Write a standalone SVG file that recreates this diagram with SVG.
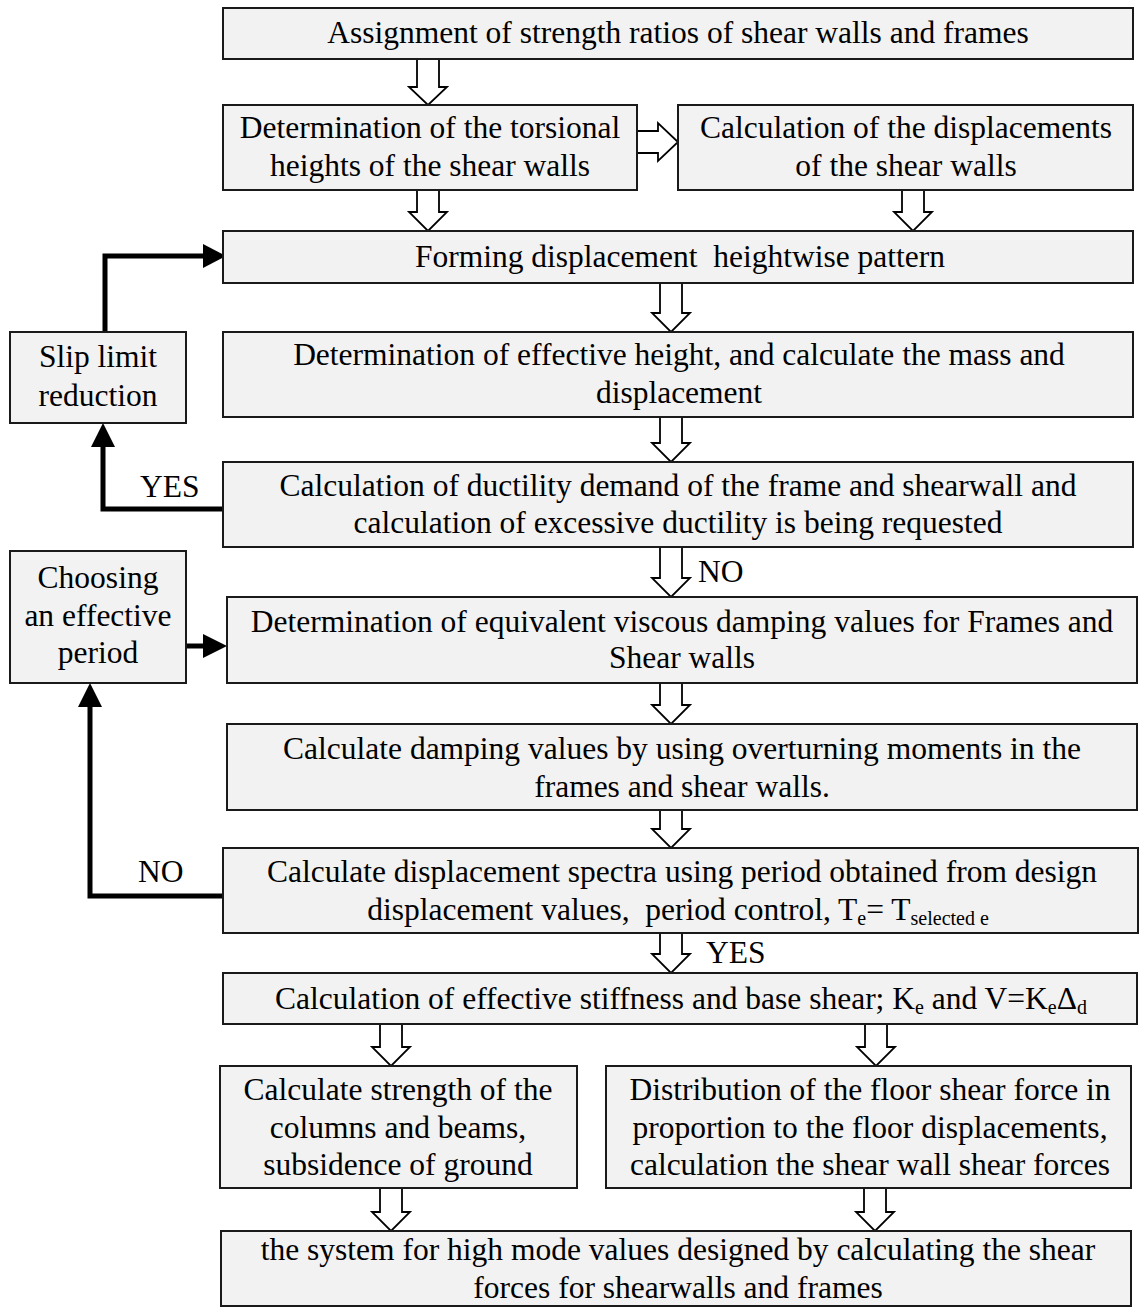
<svg xmlns="http://www.w3.org/2000/svg" width="1139" height="1308" viewBox="0 0 1139 1308">
<style>
  .box { fill: #f2f2f2; stroke: #1a1a1a; stroke-width: 2; }
  .t { font-family: "Liberation Serif", "Times New Roman", serif; font-size: 31.5px; fill: #000; text-anchor: middle; }
  .lbl { font-family: "Liberation Serif", "Times New Roman", serif; font-size: 31.5px; fill: #000; }
  .sub { font-size: 20px; }
  .hollow { fill: #fff; stroke: #000; stroke-width: 1.8; stroke-linejoin: miter; }
  .thick { fill: none; stroke: #000; stroke-width: 5; stroke-linejoin: miter; }
  .head { fill: #000; stroke: none; }
</style>
<rect width="1139" height="1308" fill="#fff"/>

<g id="connectors">
  <!-- hollow block arrows -->
  <polygon class="hollow" points="417,59 439,59 439,87 447,87 428,105 409,87 417,87"/>
  <polygon class="hollow" points="417,190 439,190 439,212 447,212 428,231 409,212 417,212"/>
  <polygon class="hollow" points="902,190 924,190 924,212 932,212 913,231 894,212 902,212"/>
  <polygon class="hollow" points="637,131 658,131 658,123 678,142 658,161 658,153 637,153"/>
  <polygon class="hollow" points="660,283 682,283 682,313 690,313 671,332 652,313 660,313"/>
  <polygon class="hollow" points="660,417 682,417 682,443 690,443 671,462 652,443 660,443"/>
  <polygon class="hollow" points="660,547 682,547 682,578 690,578 671,597 652,578 660,578"/>
  <polygon class="hollow" points="660,683 682,683 682,705 690,705 671,724 652,705 660,705"/>
  <polygon class="hollow" points="660,810 682,810 682,829 690,829 671,848 652,829 660,829"/>
  <polygon class="hollow" points="660,933 682,933 682,954 690,954 671,973 652,954 660,954"/>
  <polygon class="hollow" points="380,1024 402,1024 402,1047 410,1047 391,1066 372,1047 380,1047"/>
  <polygon class="hollow" points="865,1024 887,1024 887,1047 895,1047 876,1066 857,1047 865,1047"/>
  <polygon class="hollow" points="380,1188 402,1188 402,1212 410,1212 391,1231 372,1212 380,1212"/>
  <polygon class="hollow" points="864,1188 886,1188 886,1212 894,1212 875,1231 856,1212 864,1212"/>

  <!-- thick feedback arrows -->
  <path class="thick" d="M105,332 V256 H205"/>
  <polygon class="head" points="203,244 226,256 203,268"/>
  <path class="thick" d="M223,509 H103 V445"/>
  <polygon class="head" points="91,447 103,423 115,447"/>
  <path class="thick" d="M186,646 H205"/>
  <polygon class="head" points="203,634 227,646 203,658"/>
  <path class="thick" d="M223,896 H90 V705"/>
  <polygon class="head" points="78,707 90,683 102,707"/>

  <text class="lbl" x="140" y="497">YES</text>
  <text class="lbl" x="698" y="582">NO</text>
  <text class="lbl" x="138" y="882">NO</text>
  <text class="lbl" x="706" y="963">YES</text>
</g>

<g id="n1">
  <rect class="box" x="223" y="8" width="910" height="51"/>
  <text class="t" x="678" y="43">Assignment of strength ratios of shear walls and frames</text>
</g>
<g id="n2">
  <rect class="box" x="223" y="105" width="414" height="85"/>
  <text class="t" x="430" y="138">Determination of the torsional</text>
  <text class="t" x="430" y="176">heights of the shear walls</text>
</g>
<g id="n3">
  <rect class="box" x="678" y="105" width="455" height="85"/>
  <text class="t" x="906" y="138">Calculation of the displacements</text>
  <text class="t" x="906" y="176">of the shear walls</text>
</g>
<g id="n4">
  <rect class="box" x="223" y="231" width="910" height="52"/>
  <text class="t" x="680" y="267" xml:space="preserve">Forming displacement  heightwise pattern</text>
</g>
<g id="n5">
  <rect class="box" x="223" y="332" width="910" height="85"/>
  <text class="t" x="679" y="365">Determination of effective height, and calculate the mass and</text>
  <text class="t" x="679" y="403">displacement</text>
</g>
<g id="n_slip">
  <rect class="box" x="10" y="332" width="176" height="91"/>
  <text class="t" x="98" y="367">Slip limit</text>
  <text class="t" x="98" y="406">reduction</text>
</g>
<g id="n6">
  <rect class="box" x="223" y="462" width="910" height="85"/>
  <text class="t" x="678" y="496">Calculation of ductility demand of the frame and shearwall and</text>
  <text class="t" x="678" y="533">calculation of excessive ductility is being requested</text>
</g>
<g id="n_choose">
  <rect class="box" x="10" y="551" width="176" height="132"/>
  <text class="t" x="98" y="588">Choosing</text>
  <text class="t" x="98" y="626">an effective</text>
  <text class="t" x="98" y="663">period</text>
</g>
<g id="n7">
  <rect class="box" x="227" y="597" width="910" height="86"/>
  <text class="t" x="682" y="632">Determination of equivalent viscous damping values for Frames and</text>
  <text class="t" x="682" y="668">Shear walls</text>
</g>
<g id="n8">
  <rect class="box" x="227" y="724" width="910" height="86"/>
  <text class="t" x="682" y="759">Calculate damping values by using overturning moments in the</text>
  <text class="t" x="682" y="797">frames and shear walls.</text>
</g>
<g id="n9">
  <rect class="box" x="223" y="848" width="915" height="85"/>
  <text class="t" x="682" y="882">Calculate displacement spectra using period obtained from design</text>
  <text class="t" x="678" y="920" xml:space="preserve">displacement values,  period control, T<tspan class="sub" dy="5">e</tspan><tspan dy="-5">= T</tspan><tspan class="sub" dy="5">selected e</tspan></text>
</g>
<g id="n10">
  <rect class="box" x="223" y="973" width="914" height="51"/>
  <text class="t" x="681" y="1009">Calculation of effective stiffness and base shear; K<tspan class="sub" dy="5">e</tspan><tspan dy="-5"> and V=K</tspan><tspan class="sub" dy="5">e</tspan><tspan dy="-5">Δ</tspan><tspan class="sub" dy="5">d</tspan></text>
</g>
<g id="n11a">
  <rect class="box" x="220" y="1066" width="357" height="122"/>
  <text class="t" x="398" y="1100">Calculate strength of the</text>
  <text class="t" x="398" y="1138">columns and beams,</text>
  <text class="t" x="398" y="1175">subsidence of ground</text>
</g>
<g id="n11b">
  <rect class="box" x="606" y="1066" width="525" height="122"/>
  <text class="t" x="870" y="1100">Distribution of the floor shear force in</text>
  <text class="t" x="870" y="1138">proportion to the floor displacements,</text>
  <text class="t" x="870" y="1175">calculation the shear wall shear forces</text>
</g>
<g id="n12">
  <rect class="box" x="221" y="1231" width="910" height="75"/>
  <text class="t" x="678" y="1260">the system for high mode values designed by calculating the shear</text>
  <text class="t" x="678" y="1298">forces for shearwalls and frames</text>
</g>
</svg>
